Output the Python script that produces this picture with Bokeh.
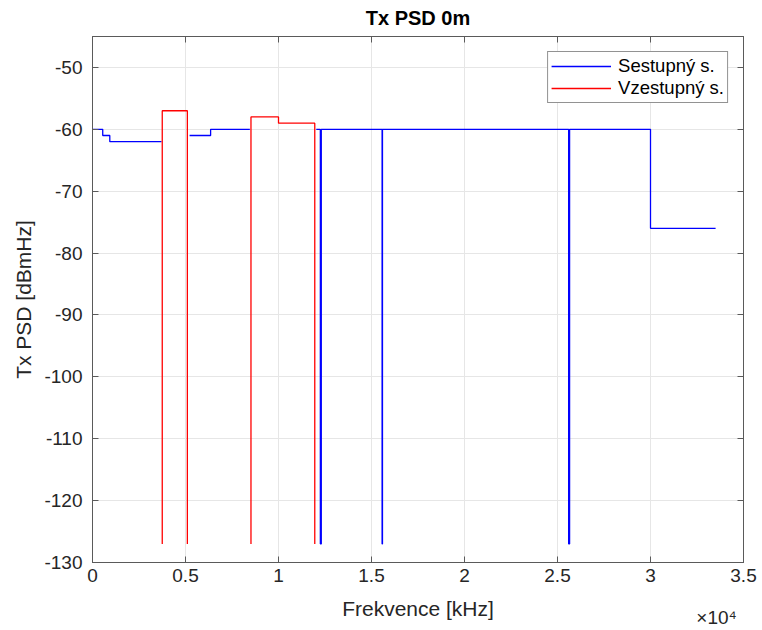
from bokeh.plotting import figure
from bokeh.models import FixedTicker, LinearAxis, Range1d, Legend, LegendItem
from bokeh.embed import file_html
from bokeh.resources import INLINE

nan = float("nan")

# Downstream (Sestupny s.) PSD mask, frequency in kHz, PSD in dBm/Hz
blue_f = [0, 550, 550, 930, 930, 3710, nan, 5220, 6350, 6350, 8460, nan,
          12030, 12250, 12250, 12300, 12300, 15570, 15570, 15590, 15590,
          25600, 25600, 25650, 25650, 30000, 30000, 33500]
blue_p = [-60, -60, -61, -61, -62, -62, nan, -61, -61, -60, -60, nan,
          -60, -60, -127, -127, -60, -60, -127, -127, -60,
          -60, -127, -127, -60, -60, -76, -76]

# Upstream (Vzestupny s.)
red_f = [3750, 3750, 5100, 5100, nan, 8520, 8520, 10000, 10000, 11950, 11950]
red_p = [-127, -57, -57, -127, nan, -127, -58, -58, -59, -59, -127]

x_ticks = [0, 5000, 10000, 15000, 20000, 25000, 30000, 35000]
x_tick_labels = ["0", "0.5", "1", "1.5", "2", "2.5", "3", "3.5"]
y_ticks = [-130, -120, -110, -100, -90, -80, -70, -60, -50]
y_tick_labels = ["-130", "-120", "-110", "-100", "-90", "-80", "-70", "-60", "-50"]
x_exponent = "×10⁴"
x_exponent_at = 33550

FONT = "Liberation Sans"
AX = "#262626"
LINE = "#5a5a5a"

p = figure(width=762, height=630, output_backend="svg", toolbar_location=None,
           x_range=Range1d(0, 35000), y_range=Range1d(-130, -45),
           min_border_left=92, min_border_right=19, min_border_top=36,
           min_border_bottom=67, background_fill_color="white",
           border_fill_color="white")

p.title.text = "Tx PSD 0m"
p.title.align = "center"
p.title.vertical_align = "top"
p.title.text_font = FONT
p.title.text_font_size = "20px"
p.title.text_font_style = "bold"
p.title.text_color = "#000000"
p.title.standoff = 12

p.outline_line_color = LINE
p.outline_line_width = 1

bl = p.line(blue_f, blue_p, line_color="#0000FF", line_width=1.3)
rl = p.line(red_f, red_p, line_color="#FF0000", line_width=1.3)

xa = p.xaxis[0]
ya = p.yaxis[0]
xa.ticker = FixedTicker(ticks=x_ticks)
xa.major_label_overrides = {t: l for t, l in zip(x_ticks, x_tick_labels)}
ya.ticker = FixedTicker(ticks=y_ticks)
ya.major_label_overrides = {t: l for t, l in zip(y_ticks, y_tick_labels)}
xa.axis_label = "Frekvence [kHz]"
ya.axis_label = "Tx PSD [dBmHz]"
for a in (xa, ya):
    a.axis_label_text_font = FONT
    a.axis_label_text_font_size = "21px"
    a.axis_label_text_font_style = "normal"
    a.axis_label_text_color = AX
    a.major_label_text_font = FONT
    a.major_label_text_font_size = "19px"
    a.major_label_text_color = AX
    a.major_tick_in = 6
    a.major_tick_out = 0
    a.minor_tick_in = 0
    a.minor_tick_out = 0
    a.axis_line_color = LINE
    a.major_tick_line_color = LINE
xa.major_label_standoff = 6
xa.axis_label_standoff = 12
ya.major_label_standoff = 10
ya.axis_label_standoff = 6

# exponent of the x axis, shown under its right end
xexp = LinearAxis(ticker=FixedTicker(ticks=[x_exponent_at]),
                  major_label_overrides={x_exponent_at: x_exponent},
                  major_label_standoff=-16, major_tick_in=0, major_tick_out=0,
                  minor_tick_in=0, minor_tick_out=0, axis_line_color=None,
                  major_tick_line_color=None, major_label_text_font=FONT,
                  major_label_text_font_size="19px", major_label_text_color=AX)
p.add_layout(xexp, "below")

# tick marks on the top and right sides of the box (no labels)
top = LinearAxis(ticker=FixedTicker(ticks=[], minor_ticks=x_ticks),
                 major_tick_in=0, major_tick_out=0, minor_tick_in=6, minor_tick_out=0,
                 axis_line_color=LINE, minor_tick_line_color=LINE)
right = LinearAxis(ticker=FixedTicker(ticks=[], minor_ticks=y_ticks),
                   major_tick_in=0, major_tick_out=0, minor_tick_in=6, minor_tick_out=0,
                   axis_line_color=LINE, minor_tick_line_color=LINE)
p.add_layout(top, "above")
p.add_layout(right, "right")

p.xgrid.ticker = FixedTicker(ticks=x_ticks)
p.ygrid.ticker = FixedTicker(ticks=y_ticks)
p.grid.grid_line_color = "#e6e6e6"
p.grid.grid_line_width = 1

legend = Legend(items=[LegendItem(label="Sestupný s.", renderers=[bl]),
                       LegendItem(label="Vzestupný s.", renderers=[rl])],
                location="top_right")
legend.label_text_font = FONT
legend.label_text_font_size = "18.5px"
legend.label_text_color = "#000000"
legend.border_line_color = AX
legend.border_line_width = 1
legend.margin = 15
legend.padding = 3
legend.spacing = 0
legend.glyph_width = 60
legend.glyph_height = 20
legend.label_height = 20
legend.label_standoff = 7
legend.background_fill_alpha = 1
p.add_layout(legend)

open("out.html", "w").write(file_html(p, INLINE))
